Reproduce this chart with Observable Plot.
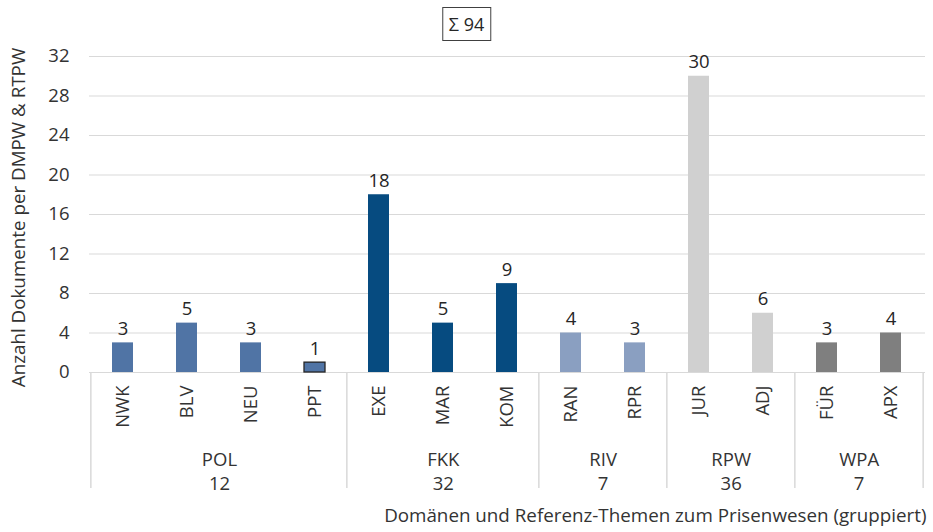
<!DOCTYPE html>
<html>
<head>
<meta charset="utf-8">
<script src="https://cdn.jsdelivr.net/npm/d3@7"></script>
<script src="https://cdn.jsdelivr.net/npm/@observablehq/plot@0.6"></script>
<style>
  html, body { margin: 0; padding: 0; background: #fff; }
  #wrap { position: relative; width: 933px; height: 532px; font-family: "Open Sans", sans-serif; }
  #sum { position: absolute; top: 7px; left: 50%; transform: translateX(-50%); border: 1px solid #404040;
         padding: 3px 6px; font-size: 18px; color: #262626; line-height: 26px; background: #fff; }
</style>
</head>
<body>
<div id="wrap"><div id="sum"></div></div>
<script>
const categories = ["NWK","BLV","NEU","PPT","EXE","MAR","KOM","RAN","RPR","JUR","ADJ","FÜR","APX"];
const values     = [3, 5, 3, 1, 18, 5, 9, 4, 3, 30, 6, 3, 4];
const groupOf    = ["POL","POL","POL","POL","FKK","FKK","FKK","RIV","RIV","RPW","RPW","WPA","WPA"];
const groupNames = ["POL","FKK","RIV","RPW","WPA"];
const groupTotals = [12, 32, 7, 36, 7];
const groupColors = ["#5074a5", "#064b80", "#8a9fc1", "#d0d0d0", "#7f7f7f"];
const yTicks = [0, 4, 8, 12, 16, 20, 24, 28, 32];
const total = 94;
const yTitle = "Anzahl Dokumente per DMPW & RTPW";
const xTitle = "Domänen und Referenz-Themen zum Prisenwesen (gruppiert)";

const W = 933, H = 532, mL = 89, mR = 8, mT = 56, mB = 160;
const step = (W - mL - mR) / categories.length;
const pxPerUnit = (H - mT - mB) / (yTicks[yTicks.length - 1] - yTicks[0]);

const bars = categories.map((c, i) => ({cat: c, value: values[i], group: groupOf[i], highlight: c === "PPT"}));
const groups = groupNames.map((g, gi) => {
  const idx = groupOf.map((x, i) => x === g ? i : -1).filter(i => i >= 0);
  return {name: g, total: groupTotals[gi], first: categories[idx[0]], last: categories[idx[idx.length - 1]], count: idx.length};
});

const textColor = "#333333";
const gridColor = "#d9d9d9";
const fs = 18.5;

document.getElementById("sum").textContent = "Σ " + total;

const marks = [
  Plot.ruleY(yTicks, {y: d => d, stroke: gridColor, strokeWidth: 1.2}),
  Plot.barY(bars, {x: "cat", y: "value", fill: d => d.group}),
  Plot.barY(bars.filter(d => d.highlight), {x: "cat", y: "value", fill: d => d.group, stroke: "#262626", strokeWidth: 1.3}),
  Plot.text(bars, {x: "cat", y: "value", text: d => String(d.value), lineAnchor: "bottom", dy: -8, fontSize: fs, fill: "#262626"}),
  Plot.text(bars, {x: "cat", y: () => 0, text: "cat", rotate: -90, textAnchor: "end", dy: 13, fontSize: fs, fill: textColor}),
  // group separators
  ...groups.map(g => Plot.ruleX([g], {x: "first", y1: () => 0, y2: () => -116 / pxPerUnit, dx: -step / 2, stroke: gridColor, strokeWidth: 1.5})),
  Plot.ruleX([groups[groups.length - 1]], {x: "last", y1: () => 0, y2: () => -116 / pxPerUnit, dx: step / 2, stroke: gridColor, strokeWidth: 1.5}),
  // group labels
  ...groups.map(g => Plot.text([g], {x: "first", y: () => 0, text: d => d.name + "\n" + d.total, dx: (g.count - 1) * step / 2, dy: 98, lineHeight: 1.3, fontSize: fs, fill: textColor})),
  // axis titles
  Plot.text([yTitle], {frameAnchor: "left", textAnchor: "middle", dx: -71, dy: 3, rotate: -90, fontSize: 18.8, fill: textColor}),
  Plot.text([xTitle], {frameAnchor: "bottom-right", textAnchor: "end", dx: 1, dy: 149, fontSize: 18.8, fill: textColor}),
  Plot.axisY({ticks: yTicks, tickSize: 0, tickPadding: 20, fontSize: fs, label: null, color: textColor})
];

const chart = Plot.plot({
  width: W, height: H,
  marginLeft: mL, marginRight: mR, marginTop: mT, marginBottom: mB,
  style: {fontFamily: "'Open Sans', sans-serif", fontSize: fs + "px", color: textColor, background: "#fff"},
  x: {domain: categories, paddingInner: 0.67, paddingOuter: 0.335, axis: null},
  y: {domain: [0, 32], axis: null},
  color: {domain: groupNames, range: groupColors},
  marks
});
document.getElementById("wrap").appendChild(chart);
</script>
</body>
</html>
